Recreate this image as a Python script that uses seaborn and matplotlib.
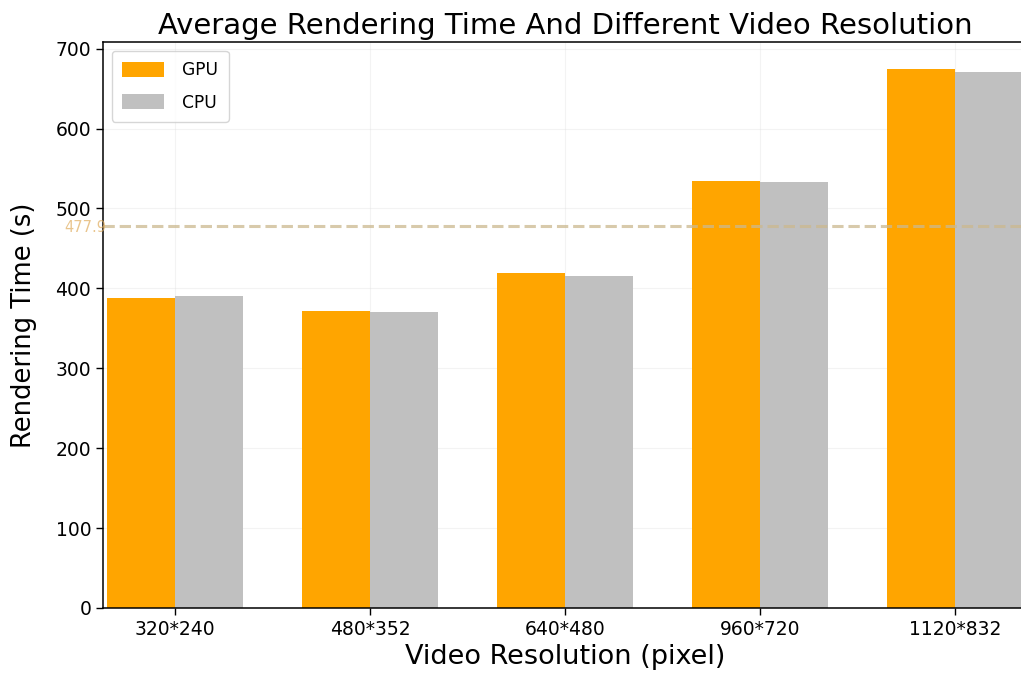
import matplotlib
matplotlib.use("Agg")
import matplotlib.pyplot as plt
import matplotlib.transforms as mtransforms
import seaborn as sns
import pandas as pd

# Rendering times (seconds) per video resolution
resolutions = ["320*240", "480*352", "640*480", "960*720", "1120*832"]
gpu_times = [388, 372, 419, 534, 674]
cpu_times = [391, 370, 416, 533, 671]
average_time = 477.9

df = pd.DataFrame({
    "Resolution": resolutions * 2,
    "Time": gpu_times + cpu_times,
    "Device": ["GPU"] * len(resolutions) + ["CPU"] * len(resolutions),
})

sns.set_style("ticks")
plt.rcParams["font.family"] = ["DejaVu Sans"]
plt.rcParams.update({
    "text.color": "black",
    "axes.labelcolor": "black",
    "xtick.color": "black",
    "ytick.color": "black",
    "axes.edgecolor": "black",
})

fig = plt.figure(figsize=(10.21, 6.8), dpi=100)
ax = fig.add_axes([0.1009, 0.1059, 0.905, 0.832])

sns.barplot(
    data=df, x="Resolution", y="Time", hue="Device",
    order=resolutions, hue_order=["GPU", "CPU"],
    palette={"GPU": "#FFA500", "CPU": "#C0C0C0"}, saturation=1,
    width=0.7, linewidth=0, errorbar=None, ax=ax, zorder=2,
)

ax.set_xlim(-0.37, 4.37)
ax.set_ylim(0, 708)
ax.set_axisbelow(True)
ax.grid(True, color="#dddddd", alpha=0.35, linewidth=0.8)

ax.axhline(average_time, color="#cbb98f", linestyle="--", linewidth=2.2,
           alpha=0.75, zorder=3)
trans = mtransforms.blended_transform_factory(ax.transAxes, ax.transData)
ax.text(-0.019, average_time - 2, f"{average_time:.1f}", transform=trans,
        ha="center", va="center", color="#e0ad5e", alpha=0.7, fontsize=10.5,
        zorder=4)

ax.set_title("Average Rendering Time And Different Video Resolution",
             fontsize=21, pad=6)
ax.set_xlabel("Video Resolution (pixel)", fontsize=19.5, labelpad=4)
ax.set_ylabel("Rendering Time (s)", fontsize=18.5, labelpad=13)
ax.tick_params(axis="both", labelsize=13.5, length=5, width=1)
for spine in ax.spines.values():
    spine.set_linewidth(1.1)

leg = ax.legend(loc="upper left", fontsize=12.3, frameon=True,
                handlelength=2.45, handleheight=1.0, borderpad=0.6,
                labelspacing=0.85, handletextpad=1.1,
                bbox_to_anchor=(0.0, 1.0))
leg.set_title(None)

fig.savefig("out.png", dpi=100)
